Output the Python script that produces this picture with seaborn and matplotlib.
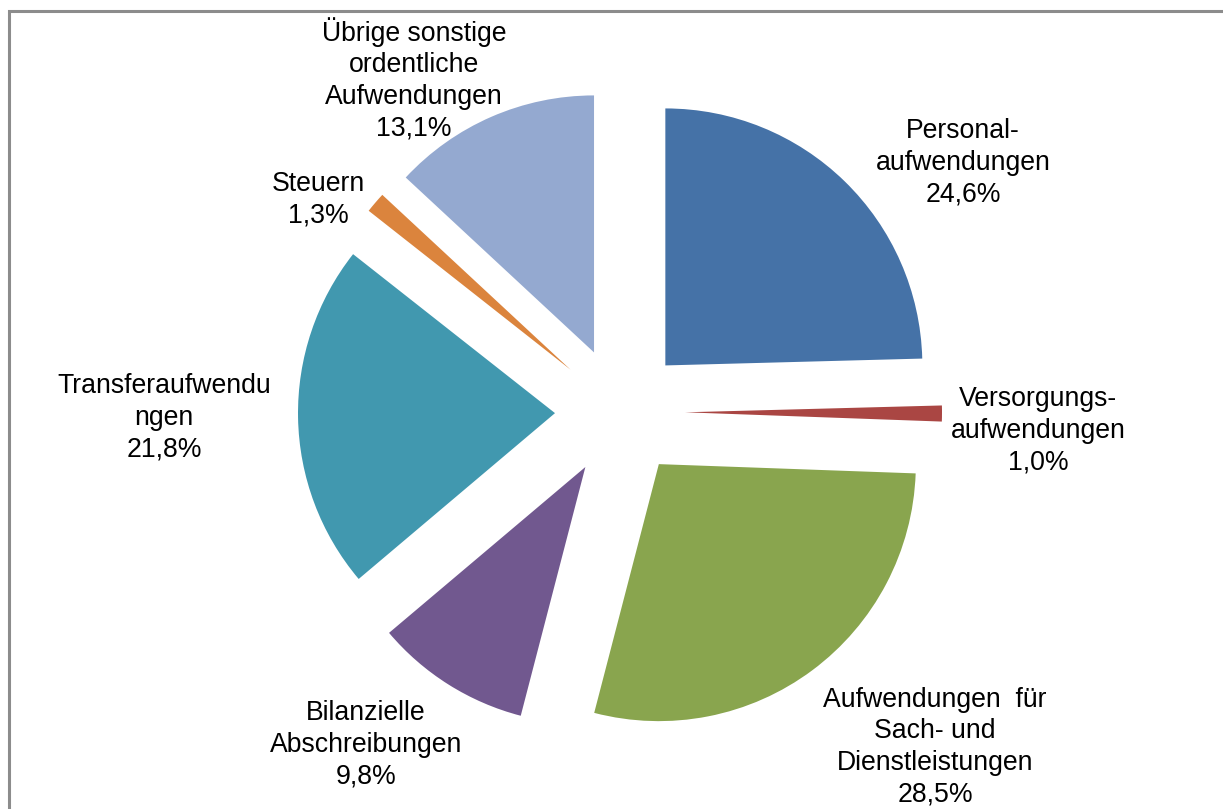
import matplotlib
matplotlib.use("Agg")
import matplotlib.pyplot as plt
import seaborn as sns

# data, clockwise from 12 o'clock
categories = [
    "Personal-\naufwendungen",
    "Versorgungs-\naufwendungen",
    "Aufwendungen  für\nSach- und\nDienstleistungen",
    "Bilanzielle\nAbschreibungen",
    "Transferaufwendu\nngen",
    "Steuern",
    "Übrige sonstige\nordentliche\nAufwendungen",
]
shares = [24.6, 1.0, 28.5, 9.8, 21.8, 1.3, 13.1]
slice_colors = ["#4572A7", "#AA4643", "#89A54E", "#71588F", "#4198AF", "#DB843D", "#94A9D0"]

# label anchors in pixel coords (x, y from top)
label_pos = [(963, 163), (1038, 431), (935, 747), (366, 745), (164, 418), (318, 200), (414, 79)]

W, H = 1223, 809
sns.set_theme(style="white")
plt.rcParams["font.family"] = ["Liberation Sans", "DejaVu Sans"]

fig = plt.figure(figsize=(W / 100, H / 100), dpi=100)
ax = fig.add_axes([0, 0, 1, 1])

radius = 257
cx, cy = 620, H - 412
palette = sns.color_palette(slice_colors)

# explode is in data units here (pixels)
ax.pie(
    shares,
    colors=palette,
    startangle=90,
    counterclock=False,
    radius=radius,
    center=(cx, cy),
    explode=[65] * len(shares),
    wedgeprops=dict(linewidth=0),
)

for name, val, (lx, ly) in zip(categories, shares, label_pos):
    txt = f"{name}\n{val:.1f}%".replace(".", ",")
    ax.text(lx, H - ly, txt, ha="center", va="center", fontsize=19.2,
            color="black", linespacing=1.28)

ax.set_xlim(0, W)
ax.set_ylim(0, H)
ax.set_aspect("equal")
ax.axis("off")

# chart frame (only top/left visible in the crop)
ax.plot([9, 9, W + 10], [-10, H - 11, H - 11], color="#8c8c8c", lw=2.2,
        solid_joinstyle="miter", clip_on=False)

fig.savefig("out.png", dpi=100, facecolor="white")
